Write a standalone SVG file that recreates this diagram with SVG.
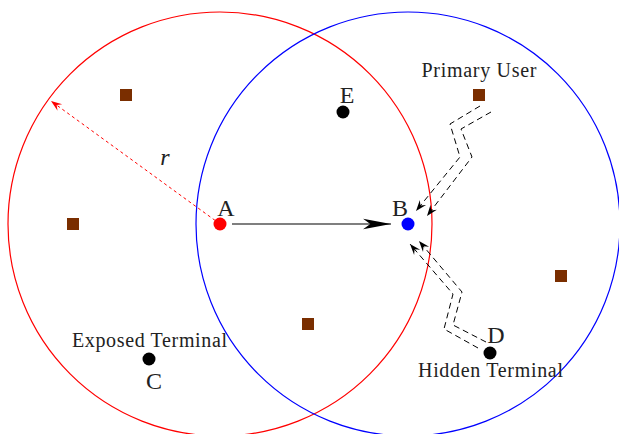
<svg xmlns="http://www.w3.org/2000/svg" width="619" height="434" viewBox="0 0 619 434">
<defs>
<style>
.lbl{font-family:"Liberation Serif",serif;fill:#222;}
.big{font-size:24px;}
.small{font-size:20px;}
.sq{fill:#7a2e00;}
.zz{fill:none;stroke:#000;stroke-width:1;stroke-dasharray:6,4;}
</style>
<marker id="stk" markerUnits="userSpaceOnUse" markerWidth="30" markerHeight="14" viewBox="-28 -6 29 12" refX="0" refY="0" orient="auto">
<path d="M0,0 L-27,-5 L-20,0 L-27,5 Z" fill="#000"/>
</marker>
<marker id="stkS" markerUnits="userSpaceOnUse" markerWidth="14" markerHeight="10" viewBox="-12 -5 13 10" refX="0" refY="0" orient="auto">
<path d="M0,0 L-11,-4 L-7,0 L-11,4 Z" fill="#000"/>
</marker>
<marker id="stkR" markerUnits="userSpaceOnUse" markerWidth="14" markerHeight="10" viewBox="-12 -5 13 10" refX="0" refY="0" orient="auto">
<path d="M0,0 L-11,-4 L-7,0 L-11,4 Z" fill="red"/>
</marker>
</defs>
<rect width="619" height="434" fill="#fff"/>
<g id="ranges">
<circle cx="220" cy="224" r="212" fill="none" stroke="red" stroke-width="1.2"/>
<circle cx="408" cy="224" r="212" fill="none" stroke="blue" stroke-width="1.2"/>
</g>
<g id="connectors">
<line x1="220" y1="224" x2="51" y2="101" stroke="red" stroke-width="1" stroke-dasharray="3,3" marker-end="url(#stkR)"/>
<line x1="232" y1="224" x2="391" y2="224" stroke="#000" stroke-width="1.2" marker-end="url(#stk)"/>
<path class="zz" d="M480,106 L450,124 L460,157 L416,211" marker-end="url(#stkS)"/>
<path class="zz" d="M491,112 L461,129 L472,157 L427,216" marker-end="url(#stkS)"/>
<path class="zz" d="M478,348 L444,329 L453,294 L410,244" marker-end="url(#stkS)"/>
<path class="zz" d="M486,342 L453,325 L462,292 L419,241" marker-end="url(#stkS)"/>
</g>
<g id="r-label"><text class="lbl" x="165" y="165" font-size="24" font-style="italic" text-anchor="middle">r</text></g>
<g id="pu1"><rect class="sq" x="120" y="89" width="12" height="12"/></g>
<g id="pu2"><rect class="sq" x="67" y="218" width="12" height="12"/></g>
<g id="pu3"><rect class="sq" x="302" y="318" width="12" height="12"/></g>
<g id="pu4"><rect class="sq" x="473" y="89" width="12" height="12"/><text class="lbl small" x="479" y="77" text-anchor="middle" textLength="115" lengthAdjust="spacing">Primary User</text></g>
<g id="pu5"><rect class="sq" x="555" y="270" width="12" height="12"/></g>
<g id="nodeA"><circle cx="220" cy="224" r="6.5" fill="red"/><text class="lbl big" x="226" y="216" text-anchor="middle">A</text></g>
<g id="nodeB"><circle cx="408" cy="224" r="6.5" fill="blue"/><text class="lbl big" x="400" y="216" text-anchor="middle">B</text></g>
<g id="nodeE"><circle cx="343" cy="112" r="6.5" fill="#000"/><text class="lbl big" x="347" y="103" text-anchor="middle">E</text></g>
<g id="nodeC"><circle cx="149" cy="359" r="6.5" fill="#000"/><text class="lbl big" x="154" y="389" text-anchor="middle">C</text><text class="lbl small" x="149.5" y="347" text-anchor="middle" textLength="155" lengthAdjust="spacing">Exposed Terminal</text></g>
<g id="nodeD"><circle cx="490" cy="353" r="6.5" fill="#000"/><text class="lbl big" x="496" y="343" text-anchor="middle">D</text><text class="lbl small" x="490.5" y="377" text-anchor="middle" textLength="145" lengthAdjust="spacing">Hidden Terminal</text></g>
</svg>
